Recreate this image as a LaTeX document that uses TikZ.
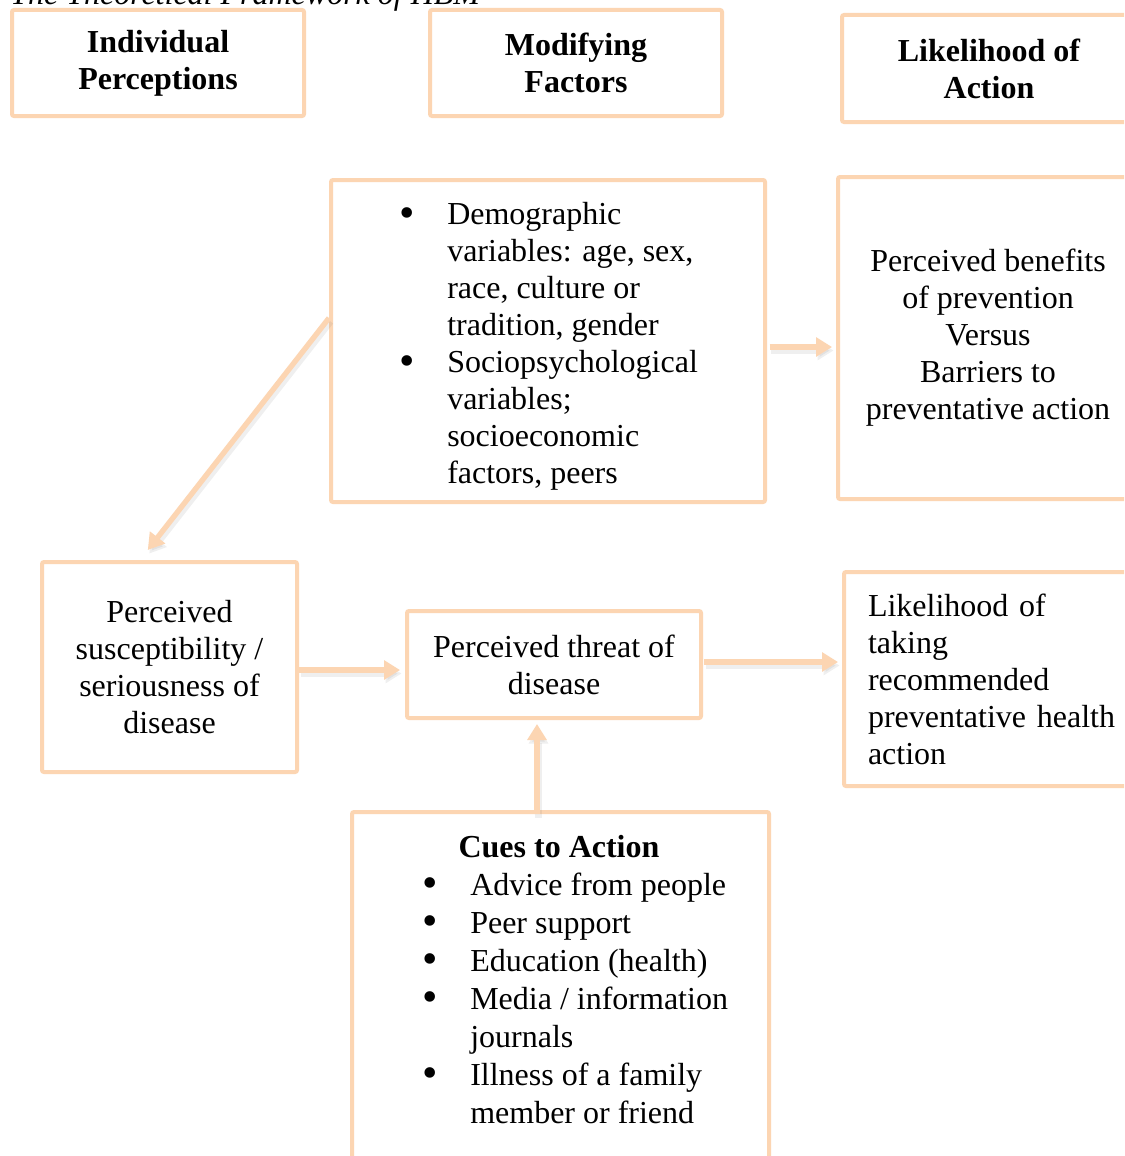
\documentclass[tikz,border=0pt]{standalone}
\usepackage{fontspec}
\setmainfont{Liberation Serif}
\usetikzlibrary{arrows.meta}
\definecolor{peach}{RGB}{252,213,178}
\newcommand{\fs}{\fontsize{24}{27.75}\selectfont}
\newcommand{\fsc}{\fontsize{24}{28.5}\selectfont}
\newcommand{\bul}{\smash{\raisebox{-1.6pt}{\fontsize{33}{33}\selectfont\textbullet}}}
\begin{document}
\begin{tikzpicture}[x=0.75pt,y=-0.75pt,
  box/.style={draw=peach, line width=3pt, rounded corners=1.5pt, inner sep=0pt, anchor=north west, align=center, font=\fs},
  arr/.style={draw=peach, line width=4pt, -{Triangle[length=12pt,width=14pt]},
    preaction={draw=black!60, draw opacity=0.10, fill opacity=0.10, line width=5pt, transform canvas={shift={(1.5,3.5)}}}},
  txt/.style={inner sep=0pt, font=\fs}]
\path[use as bounding box, clip] (0,0) rectangle (1124,1156);
\fill[white] (0,0) rectangle (1124,1156);

% title (cut off at the top)
\node[txt, font=\fs\itshape, anchor=base west] (title) at (10,5) {The Theoretical Framework of HBM};

% column headings
\node[box, minimum width=292*0.75pt, minimum height=106*0.75pt, font=\fs\bfseries] (ip) at (10,8) {Individual\\Perceptions};
\node[box, minimum width=292*0.75pt, minimum height=106*0.75pt, font=\fs\bfseries] (mf) at (428,8) {Modifying\\Factors};
\node[box, minimum width=294*0.75pt, minimum height=107*0.75pt, font=\fs\bfseries] (la) at (840,13) {Likelihood of\\Action};

% boxes
\node[box, minimum width=434*0.75pt, minimum height=322*0.75pt] (dem) at (329,178) {};
\node[box, minimum width=300*0.75pt, minimum height=322*0.75pt] (ben) at (836,175)
  {Perceived benefits\\of prevention\\Versus\\Barriers to\\preventative action};
\node[box, minimum width=255*0.75pt, minimum height=210*0.75pt] (susc) at (40,560)
  {Perceived\\susceptibility /\\seriousness of\\disease};
\node[box, minimum width=294*0.75pt, minimum height=107*0.75pt] (thr) at (405,609)
  {Perceived threat of\\disease};
\node[box, minimum width=300*0.75pt, minimum height=214*0.75pt, text width=252*0.75pt, align=left] (lik) at (842,570)
  {Likelihood of\\taking\\recommended\\preventative health\\action};
\node[box, minimum width=417*0.75pt, minimum height=360*0.75pt] (cue) at (350,810) {};

% bullet texts
\node[txt, anchor=west] (demtxt) at (399,347) {\begin{tabular}{@{}p{36pt}@{}l@{}}
\bul & Demographic\\
 & variables: age, sex,\\
 & race, culture or\\
 & tradition, gender\\
\bul & Sociopsychological\\
 & variables;\\
 & socioeconomic\\
 & factors, peers
\end{tabular}};

\node[txt, font=\fs\bfseries] (cuehead) at (559,847) {Cues to Action};
\node[txt, font=\fsc, anchor=west] (cuetxt) at (422,1002) {\begin{tabular}{@{}p{36pt}@{}l@{}}
\bul & Advice from people\\
\bul & Peer support\\
\bul & Education (health)\\
\bul & Media / information\\
 & journals\\
\bul & Illness of a family\\
 & member or friend
\end{tabular}};

% helper coordinates
\coordinate (p318) at (0,318);
\coordinate (c140) at (140,0);
\coordinate (p347) at (0,347);
\coordinate (p670) at (0,670);
\coordinate (p662) at (0,662);
\coordinate (p537) at (537,0);

% connectors
\draw[arr, shorten >=9.5pt] (dem.west |- p318) -- (susc.north -| c140);
\draw[arr, shorten <=2pt, shorten >=3pt] (dem.east |- p347) -- (ben.west |- p347);
\draw[arr, shorten >=3.75pt] (susc.east |- p670) -- (thr.west |- p670);
\draw[arr, shorten <=1pt, shorten >=3pt] (thr.east |- p662) -- (lik.west |- p662);
\draw[arr, shorten <=-3pt, shorten >=3pt] (cue.north -| p537) -- (thr.south -| p537);
\end{tikzpicture}
\end{document}
